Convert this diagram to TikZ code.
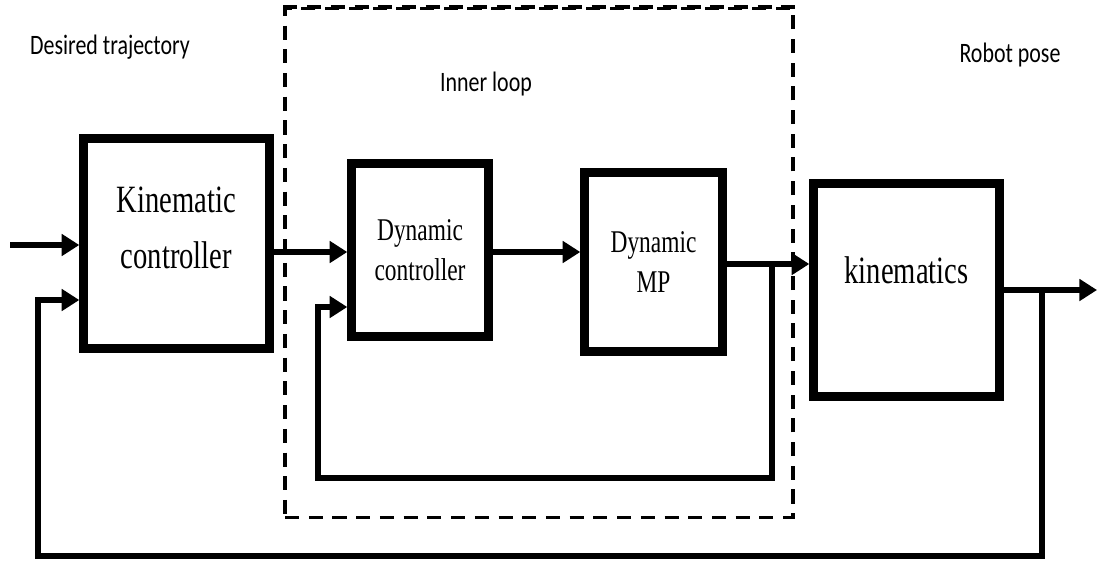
\documentclass[tikz,border=0pt]{standalone}
\usepackage{fontspec}
\setmainfont{Liberation Serif}
\newfontfamily\blockfont{Liberation Serif}[FakeStretch=0.74]
\newfontfamily\notefont{Carlito}[FakeStretch=0.78]
\usetikzlibrary{arrows.meta}
\tikzset{
  block/.style={draw, line width=4.8pt, fill=white, inner sep=0pt},
  bigtext/.style={align=center, font=\blockfont\fontsize{22}{32}\selectfont},
  smalltext/.style={align=center, font=\blockfont\fontsize{18}{23}\selectfont},
  note/.style={font=\notefont\fontsize{16}{19}\selectfont, inner sep=0pt},
  frame/.style={draw, line width=1.9pt, dash pattern=on 8pt off 5.5pt, inner sep=0pt},
  wire/.style={line width=3.9pt},
  flow/.style={wire, -{Triangle[length=10pt,width=12pt]}}
}

\begin{document}
\begin{tikzpicture}[x=0.02cm, y=-0.02cm, line join=miter]
  \useasboundingbox (0,0) rectangle (1101,566);

  % inner loop frame and labels
  \node[frame, minimum width=10.16cm, minimum height=10.18cm] (loop) at (539,263) {};
  \draw[frame, line width=2.6pt] (loop.north west) -- (loop.north east);
  \node[note, anchor=base] (desired) at (110,54) {Desired trajectory};
  \node[note, anchor=base] (looplbl) at (486,91) {Inner loop};
  \node[note, anchor=base] (pose) at (1010,62) {Robot pose};

  % blocks
  \node[block, minimum width=3.72cm, minimum height=4.2cm] (kinctrl) at (176.5,243.5) {};
  \node[bigtext] (kinctrl-txt) at ([yshift=9pt]kinctrl.center) {Kinematic\\controller};
  \node[block, smalltext, minimum width=2.74cm, minimum height=3.46cm] (dynctrl) at (420,250) {Dynamic\\controller};
  \node[block, smalltext, minimum width=2.76cm, minimum height=3.58cm] (dynmp) at (653.5,262) {Dynamic\\MP};
  \node[block, minimum width=3.72cm, minimum height=4.26cm] (kinem) at (906.5,290) {};
  \node[bigtext] (kinem-txt) at ([yshift=11pt]kinem.center) {kinematics};

  % forward path
  \coordinate (in) at (10,245);
  \coordinate (out) at (1097,290);
  \draw[flow] (in) -- (in -| kinctrl.west);
  \draw[flow] (kinctrl.east |- 0,252) -- (dynctrl.west |- 0,252);
  \draw[flow] (dynctrl.east |- 0,252) -- (dynmp.west |- 0,252);
  \draw[flow] (dynmp.east |- 0,264) -- (kinem.west |- 0,264);
  \draw[flow] (kinem.east |- out) -- (out);

  % inner feedback
  \coordinate (itap) at (772,264);
  \coordinate (icorner) at (318,478);
  \draw[flow] (itap) |- (icorner) |- (dynctrl.west |- 0,307);

  % outer feedback
  \coordinate (tap) at (1042,290);
  \coordinate (corner) at (38,556);
  \draw[flow] (tap) |- (corner) |- (kinctrl.west |- 0,300);
\end{tikzpicture}
\end{document}
